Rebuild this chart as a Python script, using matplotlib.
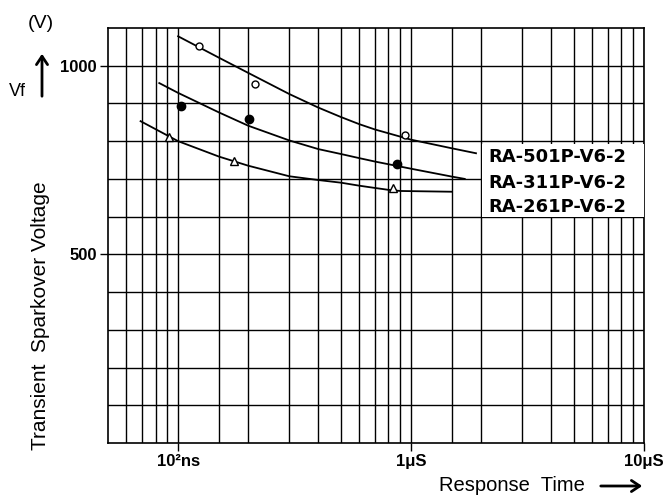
import matplotlib
matplotlib.use('Agg')
import matplotlib.pyplot as plt
from matplotlib.patches import Rectangle, FancyArrowPatch
import numpy as np

# curves (time in s, voltage in V)
t_501 = [1.0e-7, 1.5e-7, 2e-7, 3e-7, 4e-7, 5e-7, 6e-7, 7e-7, 1.0e-6, 1.5e-6, 1.9e-6]
v_501 = [1078, 1021, 981, 925, 889, 864, 845, 831, 804, 781, 768]
t_311 = [8.3e-8, 1.0e-7, 1.5e-7, 2e-7, 3e-7, 4e-7, 5e-7, 6e-7, 7e-7, 1.0e-6, 1.5e-6, 1.7e-6]
v_311 = [954, 928, 876, 841, 802, 779, 766, 755, 746, 727, 706, 700]
t_261 = [6.9e-8, 1.0e-7, 1.5e-7, 2e-7, 3e-7, 4e-7, 5e-7, 6e-7, 7e-7, 8e-7, 9e-7, 1.5e-6]
v_261 = [853, 800, 759, 735, 707, 697, 690, 682, 676, 671, 668, 666]

# measured points
pt_501_t = [1.23e-7, 2.13e-7, 9.4e-7]
pt_501_v = [1052, 951, 816]
pt_311_t = [1.03e-7, 2.02e-7, 8.7e-7]
pt_311_v = [893, 859, 739]
pt_261_t = [9.15e-8, 1.74e-7, 8.36e-7]
pt_261_v = [811, 747, 676]

names = ['RA-501P-V6-2', 'RA-311P-V6-2', 'RA-261P-V6-2']

x_major = [1e-7, 1e-6, 1e-5]
x_labels = ['10²ns', '1μS', '10μS']
x_grid = [6e-8, 7e-8, 8e-8, 9e-8, 1.5e-7, 2e-7, 3e-7, 4e-7, 5e-7, 6e-7, 7e-7, 8e-7, 9e-7,
          1.5e-6, 2e-6, 3e-6, 4e-6, 5e-6, 6e-6, 7e-6, 8e-6, 9e-6]
y_major = [500, 1000]
y_grid = [100, 200, 300, 400, 600, 700, 800, 900]

plt.rcParams['font.family'] = ['Liberation Sans', 'DejaVu Sans']

fig = plt.figure(figsize=(6.68, 4.98), dpi=100)
ax = fig.add_axes([108/668, 1-443/498, 536/668, 415/498])

ax.set_xscale('log')
ax.set_xlim(5e-8, 1e-5)
ax.set_ylim(0, 1100)
ax.set_xticks(x_major, labels=x_labels)
ax.set_xticks(x_grid, minor=True)
ax.xaxis.set_minor_formatter(matplotlib.ticker.NullFormatter())
ax.set_yticks(y_major)
ax.set_yticks(y_grid, minor=True)
ax.grid(which='both', color='black', lw=1.0)
ax.tick_params(which='minor', length=0)
ax.tick_params(which='major', length=6, width=1.0, pad=2, labelsize=12)
for lab in ax.get_xticklabels() + ax.get_yticklabels():
    lab.set_fontweight('bold')
for s in ax.spines.values():
    s.set_linewidth(1.2)
ax.set_axisbelow(True)

for t, v in [(t_501, v_501), (t_311, v_311), (t_261, v_261)]:
    ax.plot(t, v, color='black', lw=1.3, zorder=4)

ax.plot(pt_501_t, pt_501_v, 'o', ms=5, mfc='white', mec='black', mew=1.0, zorder=5)
ax.plot(pt_311_t, pt_311_v, 'o', ms=6, mfc='black', mec='black', zorder=5)
ax.plot(pt_261_t, pt_261_v, '^', ms=6, mfc='white', mec='black', mew=1.0, zorder=5)

# label box
ax.add_patch(Rectangle((0.698, 0.545), 0.302, 0.176, transform=ax.transAxes,
                       facecolor='white', edgecolor='none', zorder=3))
for name, yy in zip(names, [0.689, 0.627, 0.569]):
    ax.text(0.709, yy, name, transform=ax.transAxes, fontsize=13, fontweight='bold',
            family='DejaVu Sans', va='center', ha='left', zorder=6)

fig.text(17/668, 1-92/498, 'Vf', fontsize=13, ha='center', va='center')
fig.text(41/668, 1-24/498, '(V)', fontsize=14, ha='center', va='center')
fig.text(41/668, 1-316/498, 'Transient  Sparkover Voltage', fontsize=15,
         rotation=90, ha='center', va='center')
fig.text(512/668, 1-485/498, 'Response  Time', fontsize=14.5, ha='center', va='center')

fig.add_artist(FancyArrowPatch(
    (42/668, 1-99/498), (42/668, 1-51/498), transform=fig.transFigure,
    arrowstyle='->,head_length=6,head_width=4', lw=2, color='black', mutation_scale=1))
fig.add_artist(FancyArrowPatch(
    (598/668, 1-486/498), (645/668, 1-486/498), transform=fig.transFigure,
    arrowstyle='->,head_length=6,head_width=4', lw=2, color='black', mutation_scale=1))

fig.savefig('out.png', dpi=100)
